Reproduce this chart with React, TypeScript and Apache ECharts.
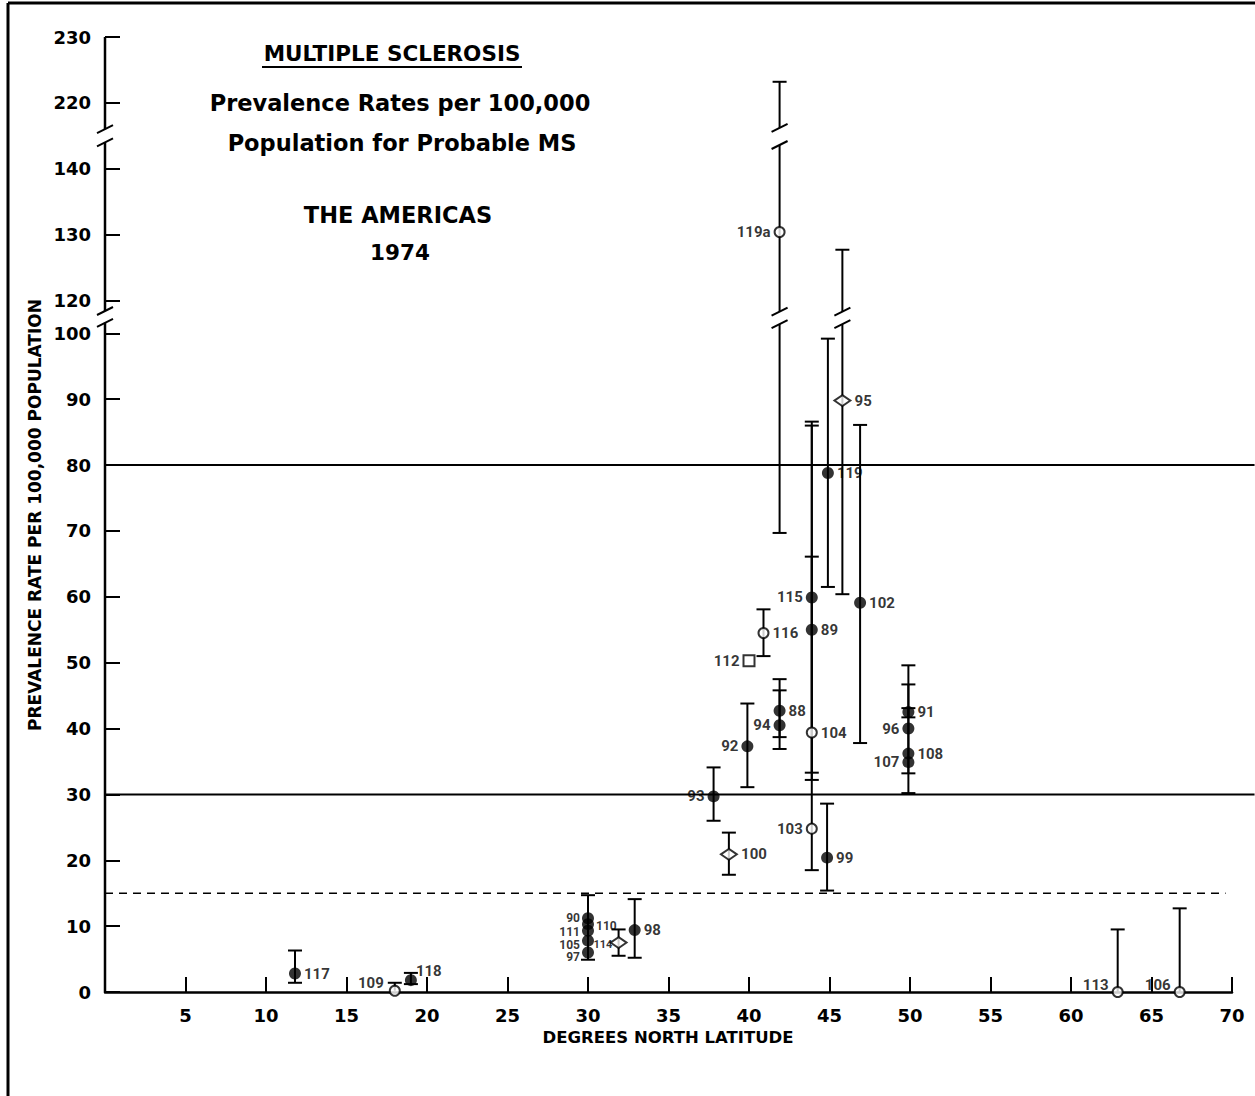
import React, { useEffect, useRef } from "react";
import * as echarts from "echarts";

// ---- data ----
const ids = ["117","109","118","90","110","111","105","97","114","98","93","100","92","116","112","88","94","115","89","104","103","119a","119","95","102","99","91","96","108","107","113","106"];
const latitude = [11.8,18.0,19.0,30,30,30,30,30,31.9,32.9,37.8,38.75,39.9,40.9,40.0,41.9,41.9,43.9,43.9,43.9,43.9,41.9,44.9,45.8,46.9,44.85,49.9,49.9,49.9,49.9,62.9,66.75];
const rate = [2.8,0.2,1.8,11.2,10.3,9.3,7.8,6.0,7.5,9.4,29.7,20.9,37.3,54.5,50.3,42.7,40.5,59.9,55.0,39.4,24.8,130.4,78.8,89.8,59.1,20.4,42.5,40.0,36.2,34.9,0,0];
const lower = [1.4,null,1.2,4.9,null,null,null,null,5.5,5.2,26.0,17.8,31.1,51.0,null,38.7,36.9,33.3,32.2,null,18.5,69.7,61.5,60.4,37.8,15.4,41.7,30.2,33.2,null,null,null];
const upper = [6.3,1.4,2.9,14.7,null,null,null,null,9.5,14.1,34.1,24.2,43.8,58.1,null,47.5,45.8,86.6,86.0,null,66.1,223.2,99.2,127.7,86.1,28.6,43.1,49.6,46.7,null,9.5,12.7];
const kind = ["filled","open","filled","filled","filled","filled","filled","filled","diamond","filled","filled","diamond","filled","open","square","filled","filled","filled","filled","open","open","open","filled","diamond","filled","filled","filled","filled","filled","filled","open","open"];
const thresholds = [80, 30, 15];
const yTickValues = [0,10,20,30,40,50,60,70,80,90,100,120,130,140,220,230];

// ---- layout config ----
const leftLabels = ["109","90","111","105","97","114","93","92","112","94","115","103","119a","96","107","113","106"];
const labelShift: Record<string, number[]> = {
  "118": [-4, -9], "113": [0, -7], "106": [0, -7], "109": [-2, -8],
  "111": [0, 1], "105": [0, 4], "97": [0, 5], "110": [0, 2], "114": [5, 2],
};
const smallLabels: Record<string, number> = { "90": 12, "111": 12, "105": 12, "97": 12, "110": 12, "114": 11 };

// broken-axis mapping (real value -> display value)
function toDisp(v: number) {
  if (v <= 100) return v;
  if (v <= 140) return v - 15;
  return v - 85;
}
function fromDisp(d: number) {
  if (d <= 100.01) return d;
  if (d <= 125.01) return d + 15;
  return d + 85;
}
const BREAKS = [[101.4, 103.3], [128.6, 131.2]];
const AXIS_SEGS = [[0, 101.6], [103.4, 129.0], [131.0, 145]];

const FONT = '"DejaVu Sans", sans-serif';
const LFONT = 'Roboto, "DejaVu Sans", sans-serif';

const symbolFor: Record<string, any> = {
  filled: { symbol: "circle", symbolSize: 12, itemStyle: { color: "#000", borderColor: "#000", borderWidth: 0 } },
  open: { symbol: "circle", symbolSize: 10, itemStyle: { color: "#fff", borderColor: "#000", borderWidth: 2 } },
  diamond: { symbol: "diamond", symbolSize: [16, 11], itemStyle: { color: "#fff", borderColor: "#000", borderWidth: 2 } },
  square: { symbol: "rect", symbolSize: 11, itemStyle: { color: "#fff", borderColor: "#000", borderWidth: 2 } },
};

export default function App() {
  const ref = useRef<HTMLDivElement>(null);
  useEffect(() => {
    const chart = echarts.init(ref.current!, undefined, { renderer: "svg" });

    const line = (a: number[], b: number[], w = 2, dash?: number[]) => ({
      type: "line",
      shape: { x1: a[0], y1: a[1], x2: b[0], y2: b[1] },
      style: { stroke: "#000", lineWidth: w, lineDash: dash },
      silent: true,
    });
    const slash = (p: number[]) => line([p[0] - 8, p[1] + 4], [p[0] + 8, p[1] - 4], 2);

    const errData: number[][] = [];
    ids.forEach((_, i) => {
      if (lower[i] == null && upper[i] == null) return;
      const lo = lower[i] != null ? (lower[i] as number) : rate[i];
      const hi = upper[i] != null ? (upper[i] as number) : rate[i];
      errData.push([latitude[i], toDisp(lo), toDisp(hi), lower[i] != null ? 1 : 0, upper[i] != null ? 1 : 0]);
    });

    const scatterSeries = Object.keys(symbolFor).map((k, si) => ({
      type: "scatter",
      name: k,
      z: 5 + si,
      ...symbolFor[k],
      label: {
        show: true,
        formatter: (p: any) => p.name,
        position: "right",
        distance: 3,
        fontSize: 15,
        fontWeight: "bold",
        fontFamily: LFONT,
        color: "#000",
      },
      data: ids
        .map((id, i) => ({ i, id }))
        .filter((o) => kind[o.i] === k)
        .map(({ i, id }) => ({
          name: id,
          value: [latitude[i], toDisp(rate[i])],
          label: {
            position: leftLabels.includes(id) ? "left" : "right",
            offset: labelShift[id] || [0, 0],
            fontSize: smallLabels[id] || 15,
            distance: smallLabels[id] ? 2 : 3,
          },
        })),
    }));

    const title = (text: string, x: number, y: number, size: number) => ({
      type: "text",
      x,
      y,
      style: { text, font: `bold ${size}px ${FONT}`, fill: "#000", textAlign: "center", textVerticalAlign: "middle" },
    });

    const option: any = {
      animation: false,
      backgroundColor: "#fff",
      textStyle: { fontFamily: FONT },
      grid: { left: 105, right: 23, top: 37, bottom: 104 },
      xAxis: {
        type: "value",
        min: 0,
        max: 70,
        interval: 5,
        splitLine: { show: false },
        axisLine: { show: true, lineStyle: { color: "#000", width: 2.5 } },
        axisTick: { show: true, inside: true, length: 15, lineStyle: { color: "#000", width: 2 } },
        axisLabel: {
          formatter: (v: number) => (v === 0 ? "" : String(v)),
          margin: 14,
          fontSize: 18,
          fontWeight: "bold",
          color: "#000",
          fontFamily: FONT,
        },
      },
      yAxis: {
        type: "value",
        min: 0,
        max: 145,
        splitLine: { show: false },
        axisLine: { show: false },
        axisTick: {
          show: true,
          inside: true,
          length: 15,
          lineStyle: { color: "#000", width: 2 },
          customValues: yTickValues.map(toDisp),
        },
        axisLabel: {
          customValues: yTickValues.map(toDisp),
          formatter: (v: number) => String(Math.round(fromDisp(v))),
          margin: 14,
          fontSize: 18,
          fontWeight: "bold",
          color: "#000",
          fontFamily: FONT,
        },
      },
      graphic: [
        { type: "line", shape: { x1: 8, y1: 3, x2: 1255, y2: 3 }, style: { stroke: "#000", lineWidth: 3 } },
        { type: "line", shape: { x1: 8, y1: 3, x2: 8, y2: 1096 }, style: { stroke: "#000", lineWidth: 3 } },
        title("MULTIPLE SCLEROSIS", 392, 53, 21.5),
        { type: "line", shape: { x1: 262, y1: 67, x2: 522, y2: 67 }, style: { stroke: "#000", lineWidth: 2 } },
        title("Prevalence Rates per 100,000", 400, 103, 22.5),
        title("Population for Probable MS", 402, 143, 22.5),
        title("THE AMERICAS", 398, 215, 22.5),
        title("1974", 400, 252, 21.5),
        {
          type: "text", x: 35, y: 515, rotation: Math.PI / 2,
          style: { text: "PREVALENCE RATE PER 100,000 POPULATION", font: `bold 17px ${FONT}`, fill: "#000", textAlign: "center", textVerticalAlign: "middle" },
        },
        {
          type: "text", x: 668, y: 1037,
          style: { text: "DEGREES NORTH LATITUDE", font: `bold 16.5px ${FONT}`, fill: "#000", textAlign: "center", textVerticalAlign: "middle" },
        },
      ],
      series: [
        {
          type: "custom",
          name: "decor",
          z: 1,
          silent: true,
          data: [[0, 0]],
          renderItem: (_p: any, api: any) => {
            const ch: any[] = [];
            AXIS_SEGS.forEach(([s, e], k) => {
              ch.push(line(api.coord([0, s]), api.coord([0, e]), 2.5));
              if (k > 0) ch.push(slash(api.coord([0, s])));
              if (k < AXIS_SEGS.length - 1) ch.push(slash(api.coord([0, e])));
            });
            thresholds.forEach((t, k) => {
              const dashed = k === thresholds.length - 1;
              const a = api.coord([0, toDisp(t)]);
              const b = api.coord([dashed ? 69.6 : 71.4, toDisp(t)]);
              ch.push(line(a, b, dashed ? 1.6 : 2, dashed ? [8, 6] : undefined));
            });
            return { type: "group", children: ch };
          },
        },
        {
          type: "custom",
          name: "errors",
          z: 2,
          silent: true,
          encode: { x: 0, y: [1, 2] },
          data: errData,
          renderItem: (_p: any, api: any) => {
            const x = api.value(0);
            const lo = api.value(1);
            const hi = api.value(2);
            const ch: any[] = [];
            let start = lo;
            BREAKS.forEach(([a, b]) => {
              if (lo < a && hi > b) {
                ch.push(line(api.coord([x, start]), api.coord([x, a]), 2));
                ch.push(slash(api.coord([x, a])));
                ch.push(slash(api.coord([x, b])));
                start = b;
              }
            });
            ch.push(line(api.coord([x, start]), api.coord([x, hi]), 2));
            if (api.value(3)) {
              const p = api.coord([x, lo]);
              ch.push(line([p[0] - 7, p[1]], [p[0] + 7, p[1]], 2));
            }
            if (api.value(4)) {
              const p = api.coord([x, hi]);
              ch.push(line([p[0] - 7, p[1]], [p[0] + 7, p[1]], 2));
            }
            return { type: "group", children: ch };
          },
        },
        ...scatterSeries,
      ],
    };
    chart.setOption(option);
    return () => chart.dispose();
  }, []);
  return (
    <div
      ref={ref}
      style={{ position: "fixed", left: 0, top: 0, width: 1255, height: 1096, background: "#fff" }}
    />
  );
}
